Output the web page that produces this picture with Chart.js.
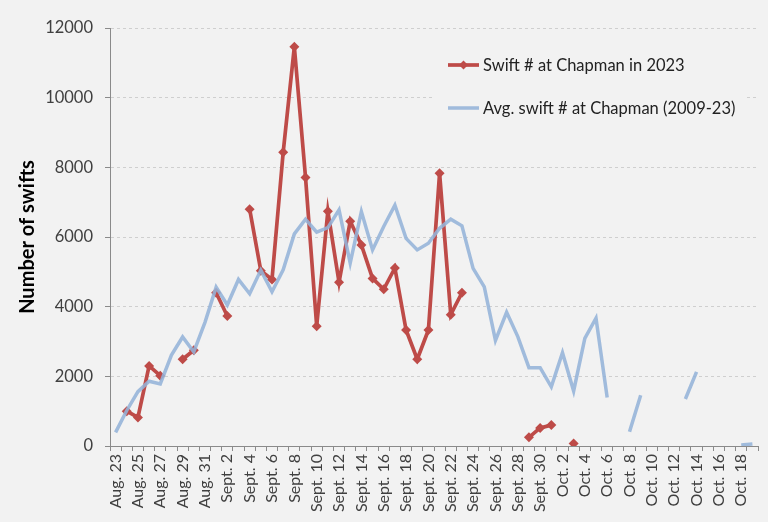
<!DOCTYPE html>
<html><head><meta charset="utf-8">
<script src="https://cdn.jsdelivr.net/npm/chart.js@4/dist/chart.umd.min.js"></script>
<style>html,body{margin:0;padding:0;background:#f2f2f2;overflow:hidden}#wrap{width:768px;height:522px;position:relative}canvas{display:block}</style>
</head><body><div id="wrap"><canvas id="c" width="768" height="522" style="width:768px;height:522px"></canvas></div>
<script>
const categories = [
  "Aug. 23","Aug. 24","Aug. 25","Aug. 26","Aug. 27","Aug. 28","Aug. 29","Aug. 30","Aug. 31",
  "Sept. 1","Sept. 2","Sept. 3","Sept. 4","Sept. 5","Sept. 6","Sept. 7","Sept. 8","Sept. 9","Sept. 10",
  "Sept. 11","Sept. 12","Sept. 13","Sept. 14","Sept. 15","Sept. 16","Sept. 17","Sept. 18","Sept. 19","Sept. 20",
  "Sept. 21","Sept. 22","Sept. 23","Sept. 24","Sept. 25","Sept. 26","Sept. 27","Sept. 28","Sept. 29","Sept. 30",
  "Oct. 1","Oct. 2","Oct. 3","Oct. 4","Oct. 5","Oct. 6","Oct. 7","Oct. 8","Oct. 9","Oct. 10",
  "Oct. 11","Oct. 12","Oct. 13","Oct. 14","Oct. 15","Oct. 16","Oct. 17","Oct. 18","Oct. 19"
];
const swifts2023 = [
  null,1000,820,2300,2020,null,2490,2750,null,
  4400,3730,null,6800,5030,4780,8430,11460,7710,3440,
  6740,4700,6450,5770,4810,4500,5110,3330,2490,3330,
  7830,3770,4400,null,null,null,null,null,250,520,
  600,null,70,null,null,null,null,null,null,null,
  null,null,null,null,null,null,null,null,null
];
const swiftsAvg = [
  390,1020,1560,1860,1780,2610,3130,2700,3550,
  4560,4050,4780,4370,5050,4430,5060,6090,6510,6140,
  6270,6780,5250,6730,5630,6300,6910,5960,5630,5820,
  6250,6510,6320,5100,4570,3030,3840,3140,2250,2250,
  1700,2680,1580,3090,3670,1390,null,410,1460,null,
  null,null,1350,2130,null,null,null,30,60
];
const seriesNames = ["Swift # at Chapman in 2023", "Avg. swift # at Chapman (2009-23)"];
const yTicks = [0,2000,4000,6000,8000,10000,12000];
const yTitle = "Number of swifts";

const BG = '#f2f2f2';
const RED = '#be4b48';
const BLUE = 'rgba(148,179,216,0.88)';
const FONT = 'Lato';

const bgPlugin = {
  id: 'bg',
  beforeDraw(chart) {
    const ctx = chart.ctx;
    ctx.save(); ctx.fillStyle = BG; ctx.fillRect(0,0,chart.width,chart.height); ctx.restore();
  }
};
const legendPlugin = {
  id: 'insideLegend',
  afterDraw(chart) {
    const ctx = chart.ctx;
    ctx.save();
    ctx.fillStyle = BG;
    ctx.fillRect(433, 40, 314, 85);
    ctx.font = '16.5px ' + FONT;
    ctx.textBaseline = 'middle';
    const rows = [65, 108];
    chart.data.datasets.forEach((ds, i) => {
      const y = rows[i];
      ctx.strokeStyle = ds.borderColor;
      ctx.lineWidth = ds.borderWidth;
      ctx.beginPath(); ctx.moveTo(448, y); ctx.lineTo(479, y); ctx.stroke();
      if (ds.pointRadius > 0) {
        ctx.fillStyle = ds.borderColor;
        ctx.beginPath();
        const r = 4.5;
        ctx.moveTo(463.5, y - r); ctx.lineTo(463.5 + r, y); ctx.lineTo(463.5, y + r); ctx.lineTo(463.5 - r, y); ctx.closePath();
        ctx.fill();
      }
      ctx.fillStyle = '#222';
      ctx.fillText(ds.label, 483, y + 1);
    });
    ctx.restore();
  }
};

new Chart(document.getElementById('c'), {
  type: 'line',
  data: {
    labels: categories,
    datasets: [
      { label: seriesNames[0], data: swifts2023, borderColor: RED, backgroundColor: RED, borderWidth: 3.7,
        pointStyle: 'rectRot', pointRadius: 5, pointHoverRadius: 5, pointBorderWidth: 0, spanGaps: false, order: 1, tension: 0 },
      { label: seriesNames[1], data: swiftsAvg, borderColor: BLUE, backgroundColor: BLUE, borderWidth: 3.5,
        pointRadius: 0, pointHoverRadius: 0, spanGaps: false, order: 0, tension: 0 }
    ]
  },
  options: {
    responsive: false,
    animation: false,
    devicePixelRatio: 1,
    layout: { padding: { left: 16, top: 28, right: 10, bottom: 0 } },
    plugins: { legend: { display: false }, tooltip: { enabled: false } },
    scales: {
      x: {
        type: 'category',
        offset: true,
        grid: { display: true, drawOnChartArea: false, drawTicks: true, tickLength: 5, offset: true, tickColor: '#8a8a8a', color: '#8a8a8a' },
        border: { display: true, color: '#8a8a8a', width: 1 },
        ticks: {
          autoSkip: false, maxRotation: 90, minRotation: 90, padding: 3,
          color: '#404040', font: { family: FONT, size: 16 },
          callback: function(v, i) { return i % 2 === 0 ? this.getLabelForValue(v) : ''; }
        },
        afterFit(scale) { scale.height = 76; scale.paddingLeft = 0; scale.paddingRight = 0; }
      },
      y: {
        min: 0, max: 12000,
        afterBuildTicks(scale) { scale.ticks = yTicks.map(v => ({ value: v })); },
        grid: { color: '#cfcfcf', lineWidth: 1, drawTicks: true, tickLength: 5, tickColor: '#8a8a8a' },
        border: { display: true, color: '#8a8a8a', width: 1, dash: [3, 3] },
        ticks: { autoSkip: false, padding: 12, color: '#404040', font: { family: FONT, size: 16.5 },
          callback: (v) => String(v) },
        title: { display: true, text: yTitle, color: '#000', font: { family: FONT, size: 20, weight: 'bold' }, padding: 0 },
        afterFit(scale) { scale.width = 94; }
      }
    }
  },
  plugins: [bgPlugin, legendPlugin]
});
</script></body></html>
